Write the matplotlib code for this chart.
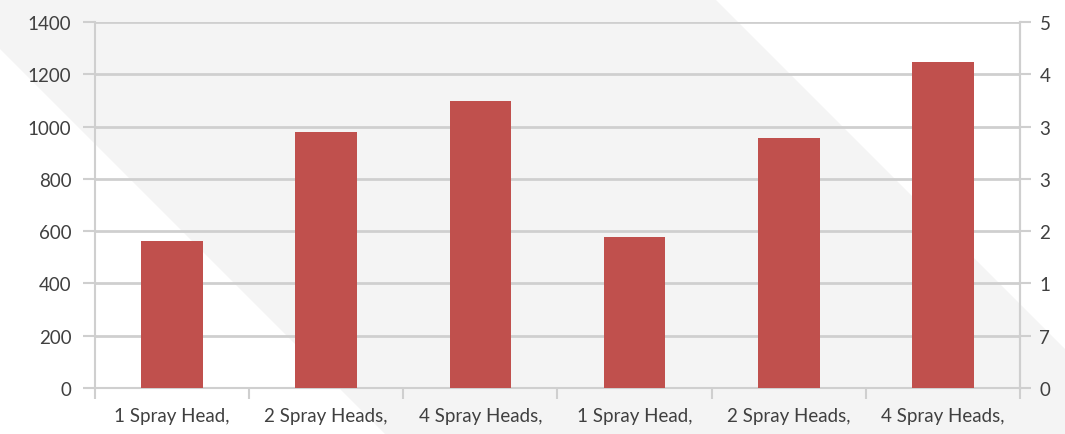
import matplotlib
matplotlib.use("Agg")
import matplotlib.pyplot as plt
from matplotlib.patches import Polygon

# data
categories = ['1 Spray Head,', '2 Spray Heads,', '4 Spray Heads,',
              '1 Spray Head,', '2 Spray Heads,', '4 Spray Heads,']
values = [562, 979, 1098, 578, 956, 1247]
left_ticks = [0, 200, 400, 600, 800, 1000, 1200, 1400]
right_labels = ['0', '7', '1', '2', '3', '3', '4', '5']

plt.rcParams['font.family'] = ['Lato', 'DejaVu Sans']
grid_col = '#cfcfcf'
text_col = '#404040'

fig = plt.figure(figsize=(10.65, 4.35), dpi=100)
fig.patch.set_facecolor('white')

# light grey diagonal band in the background (pixel coords, y down)
W, H = 1065.0, 435.0
band = [(0, 0), (715, 0), (1065, 350), (1065, 435), (385, 435), (0, 50)]
band = [(x / W, 1 - y / H) for x, y in band]
fig.patches.append(Polygon(band, closed=True, transform=fig.transFigure,
                           facecolor='#f4f4f4', edgecolor='none', zorder=-5))

ax = fig.add_axes([95 / W, 1 - 389 / H, (1020 - 95) / W, (389 - 23) / H])
ax.patch.set_alpha(0)

x = list(range(len(categories)))
ax.bar(x, values, width=0.4, color='#c0504d', zorder=3)

ax.set_xlim(-0.5, len(categories) - 0.5)
ax.set_ylim(0, 1400)
ax.set_yticks(left_ticks)
ax.yaxis.grid(True, color=grid_col, linewidth=2, zorder=1)
ax.tick_params(axis='y', length=9, width=1.5, color=grid_col,
               labelsize=13.5, labelcolor=text_col, pad=8)

# x ticks sit on category boundaries, labels in the middle
ax.set_xticks([i - 0.5 for i in range(len(categories) + 1)])
ax.set_xticklabels([])
ax.set_xticks(x, minor=True)
ax.set_xticklabels(categories, minor=True)
ax.tick_params(axis='x', which='major', length=8, width=1.5, color=grid_col)
ax.tick_params(axis='x', which='minor', length=0, labelsize=13.5,
               labelcolor=text_col, pad=14)

for s in ['left', 'bottom', 'right']:
    ax.spines[s].set_color(grid_col)
    ax.spines[s].set_linewidth(1.5)
ax.spines['top'].set_visible(False)

ax2 = ax.twinx()
ax2.set_ylim(0, 1400)
ax2.set_yticks(left_ticks)
ax2.set_yticklabels(right_labels)
ax2.tick_params(axis='y', length=8, width=1.5, color=grid_col,
                labelsize=13.5, labelcolor=text_col, pad=6)
for s in ['left', 'bottom', 'top']:
    ax2.spines[s].set_visible(False)
ax2.spines['right'].set_color(grid_col)
ax2.spines['right'].set_linewidth(1.5)

plt.savefig('out.png', dpi=100)
